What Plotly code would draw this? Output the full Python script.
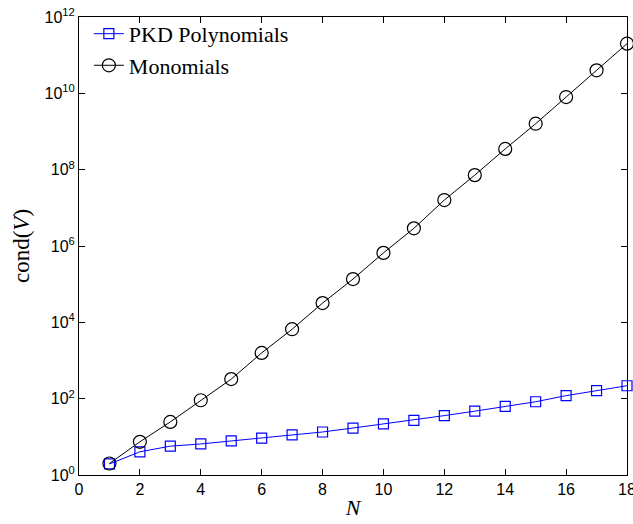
import plotly.graph_objects as go

N = list(range(1, 19))
pkd = [1.95, 4.05, 5.7, 6.5, 7.8, 9.3, 11.2, 13.4, 17.0, 21.8, 27.0, 36.0, 47.0, 63.0, 83.0, 120.0, 162.0, 218.0]
mono = [2.0, 7.4, 24.6, 91.0, 326.0, 1580.0, 6600.0, 3.2e4, 1.36e5, 6.6e5, 2.9e6, 1.6e7, 7.2e7, 3.5e8, 1.6e9, 8.0e9, 4.0e10, 2.0e11]

xticks = list(range(0, 19, 2))
yexp = [0, 2, 4, 6, 8, 10, 12]
ytickvals = [10 ** e for e in yexp]
yticktext = ["10<sup>%d</sup>" % e for e in yexp]

SERIF = "Liberation Serif, Times New Roman, serif"
SANS = "Liberation Sans, Arial, sans-serif"

fig = go.Figure()
fig.add_trace(go.Scatter(
    x=N, y=pkd, mode="lines+markers", name="PKD Polynomials", cliponaxis=False,
    line=dict(color="#0000ff", width=1),
    marker=dict(symbol="square-open", size=10, color="#0000ff", line=dict(width=1.2)),
))
fig.add_trace(go.Scatter(
    x=N, y=mono, mode="lines+markers", name="Monomials", cliponaxis=False,
    line=dict(color="#000000", width=1),
    marker=dict(symbol="circle-open", size=13, color="#000000", line=dict(width=1.2)),
))

axis_common = dict(showline=True, linecolor="black", linewidth=1, mirror="ticks",
                   ticks="inside", ticklen=6, tickcolor="black", showgrid=False,
                   zeroline=False, tickfont=dict(family=SANS, size=16, color="black"))

fig.update_layout(
    width=633, height=524,
    margin=dict(l=79, r=6, t=17, b=49, autoexpand=False),
    paper_bgcolor="white", plot_bgcolor="white",
    showlegend=True,
    legend=dict(x=0.018, y=1.009, xanchor="left", yanchor="top", bgcolor="rgba(0,0,0,0)",
                font=dict(family=SERIF, size=22, color="black"),
                tracegroupgap=0, itemwidth=30),
    xaxis=dict(range=[0, 18], tickvals=xticks, automargin=False, ticklabeloverflow="allow",
               title=dict(text="<i>N</i>", font=dict(family=SERIF, size=22, color="black"), standoff=2),
               **axis_common),
    yaxis=dict(type="log", range=[0, 12], tickvals=ytickvals, ticktext=yticktext, automargin=False,
               ticklabeloverflow="allow",
               title=dict(text="cond(<i>V</i>)", font=dict(family=SERIF, size=23, color="black"), standoff=8),
               **axis_common),
)

fig.write_html("out.html", config={"displayModeBar": False},
               post_script="document.body.style.margin='0';document.body.style.overflow='hidden';")
